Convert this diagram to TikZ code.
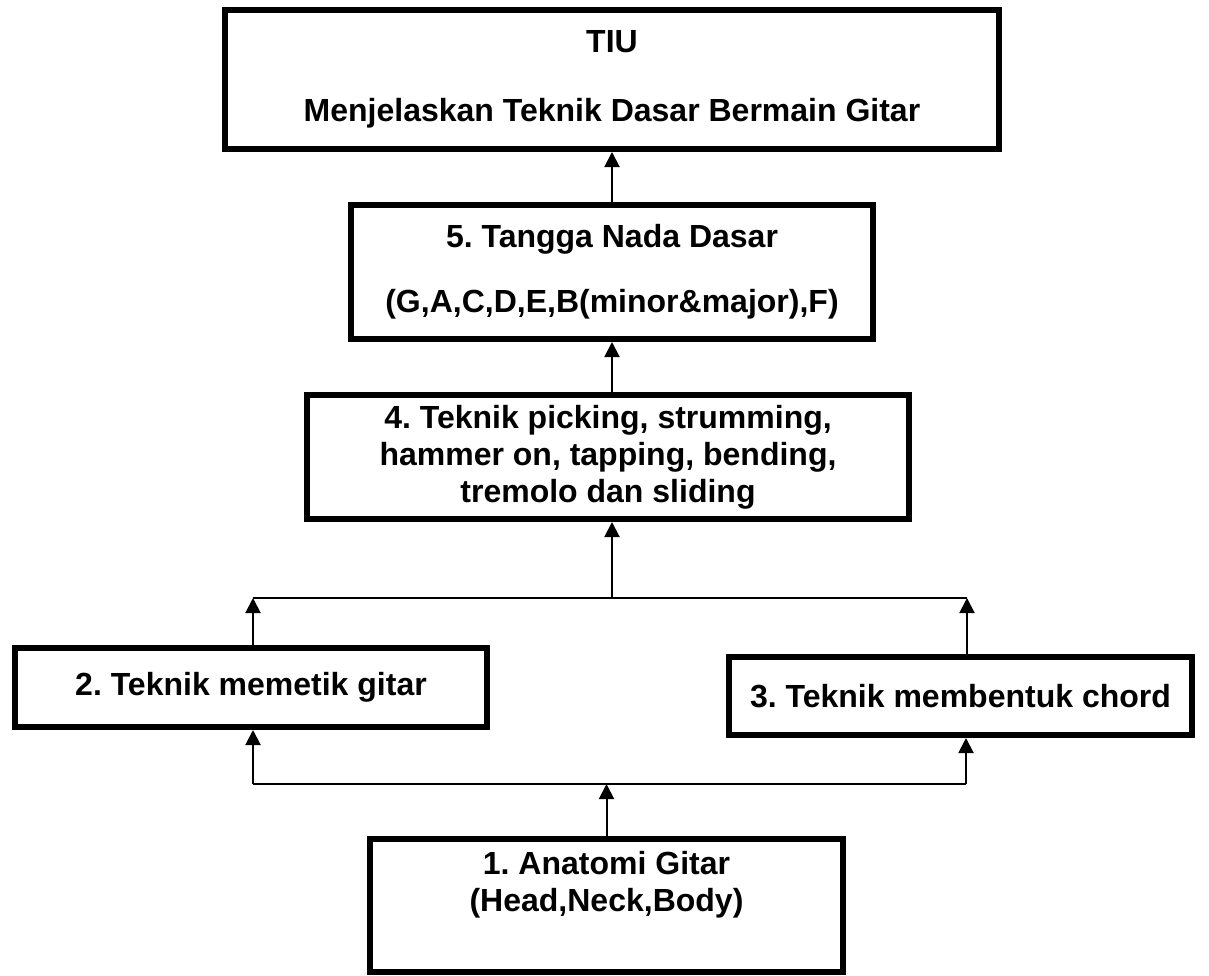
\documentclass[tikz,border=0pt]{standalone}
\usepackage{fontspec}
\setmainfont{Liberation Sans}
\usetikzlibrary{arrows.meta}
\frenchspacing
\begin{document}
\begin{tikzpicture}[x=1pt,y=-1pt,
  box/.style={draw=black,line width=6pt,fill=white,inner sep=0pt,align=center,
    font=\fontsize{32}{37}\selectfont\bfseries},
  conn/.style={draw=black,line width=2pt},
  arr/.style={conn,-{Triangle[width=15pt,length=15pt]}}]
\useasboundingbox (0,0) rectangle (1209,975);
% boxes
\node[box,minimum width=774pt,minimum height=139pt] (tiu) at (612,79.5)
  {TIU\\[32pt]Menjelaskan Teknik Dasar Bermain Gitar};
\node[box,minimum width=522pt,minimum height=134pt] (b5) at (612,272)
  {5. Tangga Nada Dasar\\[28pt](G,A,C,D,E,B(minor\&major),F)};
\node[box,minimum width=602pt,minimum height=124pt] (b4) at (608,457)
  {4. Teknik picking, strumming,\\hammer on, tapping, bending,\\tremolo dan sliding};
\node[box,minimum width=472pt,minimum height=79pt] (b2) at (251,687.5)
  {2. Teknik memetik gitar};
\node[box,minimum width=463pt,minimum height=78pt] (b3) at (960.5,696)
  {3. Teknik membentuk chord};
\node[box,minimum width=473pt,minimum height=133pt] (b1) at (606.5,905.5)
  {1. Anatomi Gitar\\(Head,Neck,Body)\\\strut};
% junction coordinates
\coordinate (ul) at (253,598);
\coordinate (ur) at (967,598);
\coordinate (um) at (612,598);
\coordinate (ll) at (253,784);
\coordinate (lr) at (966,784);
% connectors
\draw[conn] (ul) -- (ur);
\draw[conn] (ll) -- (lr);
\draw[arr] (b5.north) -- (tiu.south -| b5.north);
\draw[arr] (b4.north -| b5.north) -- (b5.south);
\draw[arr] (um) -- (um |- b4.south);
\draw[arr] (ul |- b2.north) -- (ul);
\draw[arr] (ur |- b3.north) -- (ur);
\draw[arr] (b1.north) -- (b1.north |- ll);
\draw[arr] (ll) -- (ll |- b2.south);
\draw[arr] (lr) -- (lr |- b3.south);
\end{tikzpicture}
\end{document}
